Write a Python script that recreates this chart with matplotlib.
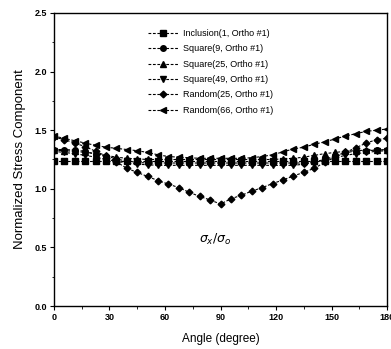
import matplotlib

matplotlib.use("Agg")
import matplotlib.pyplot as plt
import numpy as np
from matplotlib.ticker import MultipleLocator

plt.rcParams["font.family"] = ["Liberation Sans", "DejaVu Sans"]

# angle grid (degrees), 32 intervals over 0-180
angle = np.linspace(0, 180, 33)

inclusion_1 = [1.235, 1.235, 1.235, 1.235, 1.235, 1.235, 1.235, 1.235, 1.235, 1.235, 1.235,
               1.235, 1.235, 1.235, 1.235, 1.235, 1.235, 1.235, 1.235, 1.235, 1.235, 1.235,
               1.235, 1.235, 1.235, 1.235, 1.235, 1.235, 1.235, 1.235, 1.235, 1.235, 1.235]
square_9 = [1.335, 1.335, 1.33, 1.32, 1.295, 1.28, 1.255, 1.235, 1.225, 1.22, 1.22,
            1.22, 1.22, 1.22, 1.22, 1.22, 1.22, 1.22, 1.22, 1.22, 1.22, 1.22,
            1.22, 1.22, 1.22, 1.23, 1.25, 1.28, 1.31, 1.32, 1.325, 1.33, 1.335]
square_25 = [1.33, 1.325, 1.32, 1.31, 1.30, 1.285, 1.27, 1.26, 1.255, 1.25, 1.25,
             1.25, 1.25, 1.25, 1.25, 1.25, 1.25, 1.25, 1.25, 1.25, 1.25, 1.25,
             1.255, 1.26, 1.27, 1.285, 1.30, 1.31, 1.32, 1.325, 1.33, 1.33, 1.335]
square_49 = [1.32, 1.31, 1.30, 1.285, 1.27, 1.25, 1.235, 1.22, 1.21, 1.205, 1.20,
             1.20, 1.20, 1.20, 1.20, 1.20, 1.20, 1.20, 1.20, 1.20, 1.20, 1.20,
             1.20, 1.20, 1.21, 1.225, 1.245, 1.265, 1.285, 1.30, 1.31, 1.32, 1.325]
random_25 = [1.44, 1.42, 1.39, 1.36, 1.32, 1.28, 1.23, 1.175, 1.14, 1.105, 1.07,
             1.04, 1.01, 0.97, 0.935, 0.905, 0.87, 0.915, 0.945, 0.98, 1.01, 1.045,
             1.075, 1.11, 1.14, 1.175, 1.225, 1.27, 1.31, 1.35, 1.39, 1.42, 1.43]
random_66 = [1.45, 1.43, 1.41, 1.39, 1.37, 1.355, 1.345, 1.335, 1.325, 1.31, 1.29,
             1.275, 1.27, 1.265, 1.26, 1.26, 1.26, 1.26, 1.26, 1.265, 1.275, 1.29,
             1.315, 1.34, 1.355, 1.38, 1.40, 1.425, 1.45, 1.47, 1.49, 1.50, 1.51]

series = [
    ("Inclusion(1, Ortho #1)", inclusion_1, "s"),
    ("Square(9, Ortho #1)", square_9, "o"),
    ("Square(25, Ortho #1)", square_25, "^"),
    ("Square(49, Ortho #1)", square_49, "v"),
    ("Random(25, Ortho #1)", random_25, "D"),
    ("Random(66, Ortho #1)", random_66, "<"),
]

fig = plt.figure(figsize=(3.91, 3.49), dpi=100)
ax = fig.add_axes([0.138, 0.123, 0.852, 0.840])

for label, values, marker in series:
    ax.plot(angle, values, color="black", linewidth=0.8, linestyle=(0, (2.5, 1.5)),
            marker=marker, markersize=4.0 if marker != "D" else 3.4,
            markerfacecolor="black", markeredgecolor="black", label=label)

ax.set_xlim(0, 180)
ax.set_ylim(0, 2.5)
ax.xaxis.set_major_locator(MultipleLocator(30))
ax.xaxis.set_minor_locator(MultipleLocator(15))
ax.yaxis.set_major_locator(MultipleLocator(0.5))
ax.yaxis.set_minor_locator(MultipleLocator(0.25))
ax.yaxis.set_major_formatter(matplotlib.ticker.FormatStrFormatter("%.1f"))
ax.tick_params(which="major", direction="out", length=3, width=0.8,
               labelsize=6.5, pad=2)
ax.tick_params(which="minor", direction="out", length=1.8, width=0.6)
for lbl in ax.get_xticklabels() + ax.get_yticklabels():
    lbl.set_fontweight("bold")
for sp in ax.spines.values():
    sp.set_linewidth(1.0)

ax.set_xlabel("Angle (degree)", fontsize=8.5, labelpad=8)
ax.set_ylabel("Normalized Stress Component", fontsize=9.5, labelpad=6)

ax.text(87, 0.57, r"$\sigma_x/\sigma_o$", fontsize=9, ha="center", va="center")

ax.legend(loc="upper left", bbox_to_anchor=(0.27, 0.957), frameon=False,
          fontsize=6.5, handlelength=3.4, handletextpad=0.5, labelspacing=0.7,
          numpoints=1, borderaxespad=0)

fig.savefig("out.png", dpi=100)
